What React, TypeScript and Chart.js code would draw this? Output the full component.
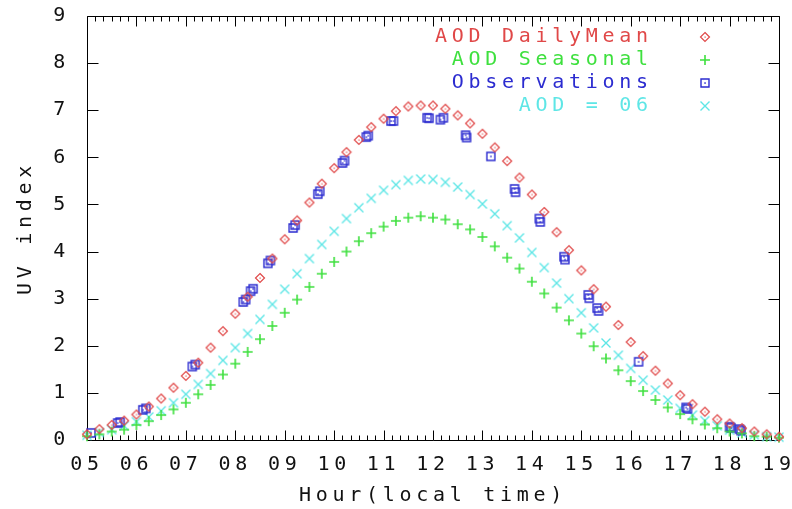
import React, { useEffect, useRef } from 'react';
import { Chart, registerables } from 'chart.js';

Chart.register(...registerables);

// ---- data ----
const hours = [
  5.0, 5.25, 5.5, 5.75, 6.0, 6.25, 6.5, 6.75, 7.0, 7.25, 7.5, 7.75,
  8.0, 8.25, 8.5, 8.75, 9.0, 9.25, 9.5, 9.75, 10.0, 10.25, 10.5, 10.75,
  11.0, 11.25, 11.5, 11.75, 12.0, 12.25, 12.5, 12.75, 13.0, 13.25, 13.5, 13.75,
  14.0, 14.25, 14.5, 14.75, 15.0, 15.25, 15.5, 15.75, 16.0, 16.25, 16.5, 16.75,
  17.0, 17.25, 17.5, 17.75, 18.0, 18.25, 18.5, 18.75, 19.0,
];

const aodDailyMean = [
  0.12, 0.23, 0.32, 0.41, 0.54, 0.71, 0.88, 1.11, 1.36, 1.64, 1.96, 2.31,
  2.68, 3.04, 3.44, 3.85, 4.26, 4.66, 5.04, 5.44, 5.77, 6.11, 6.37, 6.64,
  6.82, 6.98, 7.08, 7.1, 7.1, 7.03, 6.89, 6.72, 6.5, 6.21, 5.92, 5.57,
  5.21, 4.84, 4.41, 4.03, 3.6, 3.2, 2.83, 2.44, 2.08, 1.78, 1.47, 1.2,
  0.95, 0.76, 0.6, 0.44, 0.35, 0.25, 0.18, 0.12, 0.07,
];

const aodSeasonal = [
  0.08, 0.12, 0.18, 0.22, 0.32, 0.4, 0.53, 0.65, 0.79, 0.97, 1.17, 1.39,
  1.62, 1.87, 2.14, 2.42, 2.7, 2.98, 3.25, 3.53, 3.78, 4.0, 4.22, 4.39,
  4.53, 4.65, 4.72, 4.75, 4.72, 4.68, 4.58, 4.47, 4.31, 4.11, 3.87, 3.64,
  3.36, 3.11, 2.81, 2.54, 2.26, 1.99, 1.73, 1.48, 1.25, 1.04, 0.85, 0.69,
  0.55, 0.44, 0.33, 0.25, 0.18, 0.14, 0.08, 0.07, 0.05,
];

const aod06 = [
  0.1, 0.16, 0.22, 0.3, 0.39, 0.49, 0.62, 0.79, 0.97, 1.18, 1.41, 1.69,
  1.96, 2.26, 2.56, 2.88, 3.2, 3.53, 3.85, 4.15, 4.43, 4.7, 4.93, 5.13,
  5.3, 5.42, 5.51, 5.54, 5.53, 5.47, 5.37, 5.21, 5.01, 4.8, 4.55, 4.29,
  3.98, 3.66, 3.33, 3.0, 2.7, 2.38, 2.06, 1.8, 1.52, 1.27, 1.06, 0.85,
  0.67, 0.53, 0.41, 0.3, 0.21, 0.15, 0.11, 0.07, 0.06,
];

const obsHours = [
  5.08, 5.62, 5.67, 6.13, 6.19, 7.13, 7.19, 8.16, 8.21, 8.31, 8.36, 8.66, 8.71,
  9.17, 9.21, 9.67, 9.71, 10.17, 10.21, 10.65, 10.69, 11.15, 11.2, 11.88, 11.92,
  12.15, 12.21, 12.66, 12.68, 13.17, 13.65, 13.67, 14.15, 14.17, 14.65, 14.67,
  15.14, 15.16, 15.32, 15.35, 16.16, 17.12, 17.15, 18.0, 18.03, 18.2, 18.23,
];
const obsValues = [
  0.15, 0.36, 0.38, 0.64, 0.67, 1.56, 1.6, 2.93, 2.98, 3.16, 3.21, 3.75, 3.81,
  4.5, 4.56, 5.22, 5.28, 5.88, 5.93, 6.43, 6.46, 6.77, 6.77, 6.84, 6.83,
  6.8, 6.84, 6.47, 6.42, 6.02, 5.33, 5.26, 4.7, 4.63, 3.89, 3.83,
  3.08, 3.01, 2.8, 2.74, 1.66, 0.69, 0.66, 0.28, 0.26, 0.23, 0.2,
];

const seriesLabels = ['AOD DailyMean', 'AOD Seasonal', 'Observations', 'AOD = 06'];
const seriesColors = ['#e04848', '#3ee03e', '#2c2cd0', '#5ee6e6'];

const xTickValues = [5, 6, 7, 8, 9, 10, 11, 12, 13, 14, 15, 16, 17, 18, 19];
const xTickLabels = ['05', '06', '07', '08', '09', '10', '11', '12', '13', '14', '15', '16', '17', '18', '19'];
const yTickValues = [0, 1, 2, 3, 4, 5, 6, 7, 8, 9];
const yTickLabels = ['0', '1', '2', '3', '4', '5', '6', '7', '8', '9'];
const xTitle = 'Hour(local time)';
const yTitle = 'UV index';

// ---- styling ----
const FONT_FAMILY = "'DejaVu Sans Mono', 'Liberation Mono', monospace";
const FONT_SIZE = 20;
const LS = 4.7;
const LETTER_SPACING = `${LS}px`;

function makeMarker(kind: string, color: string): HTMLCanvasElement {
  const s = 12;
  const c = document.createElement('canvas');
  c.width = s;
  c.height = s;
  const g = c.getContext('2d') as CanvasRenderingContext2D;
  g.strokeStyle = color;
  g.fillStyle = color;
  g.lineWidth = 1.3;
  g.beginPath();
  if (kind === 'diamond') {
    g.lineWidth = 1.2;
    g.moveTo(6, 1.5);
    g.lineTo(10.5, 6);
    g.lineTo(6, 10.5);
    g.lineTo(1.5, 6);
    g.closePath();
    g.stroke();
    g.fillRect(5.5, 5.5, 1.2, 1.2);
  } else if (kind === 'plus') {
    g.lineWidth = 1.6;
    g.moveTo(6, 1);
    g.lineTo(6, 11);
    g.moveTo(1, 6);
    g.lineTo(11, 6);
    g.stroke();
  } else if (kind === 'square') {
    g.lineWidth = 1.4;
    g.rect(2, 2, 8, 8);
    g.stroke();
    g.fillRect(5.3, 5.3, 1.5, 1.5);
  } else {
    g.lineWidth = 1.4;
    g.moveTo(1.5, 1.5);
    g.lineTo(10.5, 10.5);
    g.moveTo(10.5, 1.5);
    g.lineTo(1.5, 10.5);
    g.stroke();
  }
  return c;
}

const spacingPlugin = {
  id: 'letterSpacing',
  beforeLayout(chart: any) {
    chart.ctx.letterSpacing = LETTER_SPACING;
  },
  beforeDraw(chart: any) {
    chart.ctx.letterSpacing = LETTER_SPACING;
  },
};

const framePlugin = {
  id: 'gnuFrame',
  beforeDatasetsDraw(chart: any) {
    const { ctx, chartArea } = chart;
    const xs = chart.scales.x;
    const ys = chart.scales.y;
    const L = Math.round(chartArea.left) + 0.5;
    const R = Math.round(chartArea.right) + 0.5;
    const T = Math.round(chartArea.top) + 0.5;
    const B = Math.round(chartArea.bottom) + 0.5;
    ctx.save();
    ctx.strokeStyle = '#000';
    ctx.lineWidth = 1;
    ctx.beginPath();
    ctx.rect(L, T, R - L, B - T);
    yTickValues.forEach((v) => {
      const py = Math.round(ys.getPixelForValue(v)) + 0.5;
      ctx.moveTo(L, py);
      ctx.lineTo(L + 11, py);
      ctx.moveTo(R, py);
      ctx.lineTo(R - 11, py);
    });
    for (let i = 0; i < xTickValues.length; i++) {
      const v = xTickValues[i];
      const px = Math.round(xs.getPixelForValue(v)) + 0.5;
      ctx.moveTo(px, B);
      ctx.lineTo(px, B - 10);
      ctx.moveTo(px, T);
      ctx.lineTo(px, T + 10);
      if (i < xTickValues.length - 1) {
        const next = xTickValues[i + 1];
        for (let k = 1; k < 6; k++) {
          const mv = v + ((next - v) * k) / 6;
          const mx = Math.round(xs.getPixelForValue(mv)) + 0.5;
          ctx.moveTo(mx, B);
          ctx.lineTo(mx, B - 5);
          ctx.moveTo(mx, T);
          ctx.lineTo(mx, T + 5);
        }
      }
    }
    ctx.stroke();
    ctx.restore();
  },
  afterDatasetsDraw(chart: any) {
    const { ctx } = chart;
    ctx.save();
    ctx.letterSpacing = LETTER_SPACING;
    ctx.font = `${FONT_SIZE}px ${FONT_FAMILY}`;
    ctx.textAlign = 'right';
    ctx.textBaseline = 'middle';
    const textRight = 648 + LS;
    const markerX = 705;
    const rowY = [37, 60, 83, 106];
    chart.data.datasets.forEach((ds: any, i: number) => {
      ctx.fillStyle = seriesColors[i];
      ctx.fillText(ds.label, textRight, rowY[i]);
      const img = ds.pointStyle as HTMLCanvasElement;
      ctx.drawImage(img, Math.round(markerX - img.width / 2), Math.round(rowY[i] - img.height / 2));
    });
    ctx.restore();
  },
};

const font = { family: FONT_FAMILY, size: FONT_SIZE, weight: 'normal' as const };

export default function App() {
  const canvasRef = useRef<HTMLCanvasElement | null>(null);

  useEffect(() => {
    const canvas = canvasRef.current;
    if (!canvas) return;
    const markers = [
      makeMarker('diamond', seriesColors[0]),
      makeMarker('plus', seriesColors[1]),
      makeMarker('square', seriesColors[2]),
      makeMarker('cross', seriesColors[3]),
    ];
    const mk = (label: string, xs: number[], ys: number[], i: number) => ({
      label,
      data: xs.map((h, j) => ({ x: h, y: ys[j] })),
      pointStyle: markers[i] as any,
      borderColor: seriesColors[i],
      backgroundColor: seriesColors[i],
      clip: false as any,
    });
    const chart = new Chart(canvas, {
      type: 'scatter',
      data: {
        datasets: [
          mk(seriesLabels[0], hours, aodDailyMean, 0),
          mk(seriesLabels[1], hours, aodSeasonal, 1),
          mk(seriesLabels[2], obsHours, obsValues, 2),
          mk(seriesLabels[3], hours, aod06, 3),
        ],
      },
      options: {
        responsive: false,
        animation: false,
        events: [],
        layout: { padding: { top: 16, right: 13, left: 0, bottom: 0 } },
        plugins: {
          legend: { display: false },
          tooltip: { enabled: false },
        },
        scales: {
          x: {
            type: 'linear',
            min: 5,
            max: 19,
            grid: { display: false, drawTicks: false },
            border: { display: false },
            afterBuildTicks: (s: any) => {
              s.ticks = xTickValues.map((v) => ({ value: v }));
            },
            ticks: {
              font,
              color: '#111',
              padding: 13,
              maxRotation: 0,
              autoSkip: false,
              callback: (v: any) => xTickLabels[xTickValues.indexOf(Number(v))],
            },
            title: {
              display: true,
              text: xTitle,
              font,
              color: '#111',
              padding: { top: 0, bottom: 1 },
            },
            afterFit: (s: any) => {
              s.height = 69;
              s.paddingLeft = 0;
              s.paddingRight = 0;
            },
          },
          y: {
            type: 'linear',
            min: 0,
            max: 9,
            grid: { display: false, drawTicks: false },
            border: { display: false },
            afterBuildTicks: (s: any) => {
              s.ticks = yTickValues.map((v) => ({ value: v }));
            },
            ticks: {
              font,
              color: '#111',
              padding: 17,
              callback: (v: any) => yTickLabels[yTickValues.indexOf(Number(v))],
            },
            title: {
              display: true,
              text: yTitle,
              font,
              color: '#111',
              padding: { top: 14, bottom: 0 },
            },
            afterFit: (s: any) => {
              s.width = 87;
              s.paddingTop = 0;
              s.paddingBottom = 0;
            },
          },
        },
      } as any,
      plugins: [spacingPlugin, framePlugin],
    });
    return () => {
      chart.destroy();
    };
  }, []);

  return (
    <div style={{ position: 'fixed', left: 0, top: 0, width: 792, height: 509, background: '#fff' }}>
      <canvas ref={canvasRef} width={792} height={509} style={{ display: 'block' }} />
    </div>
  );
}
